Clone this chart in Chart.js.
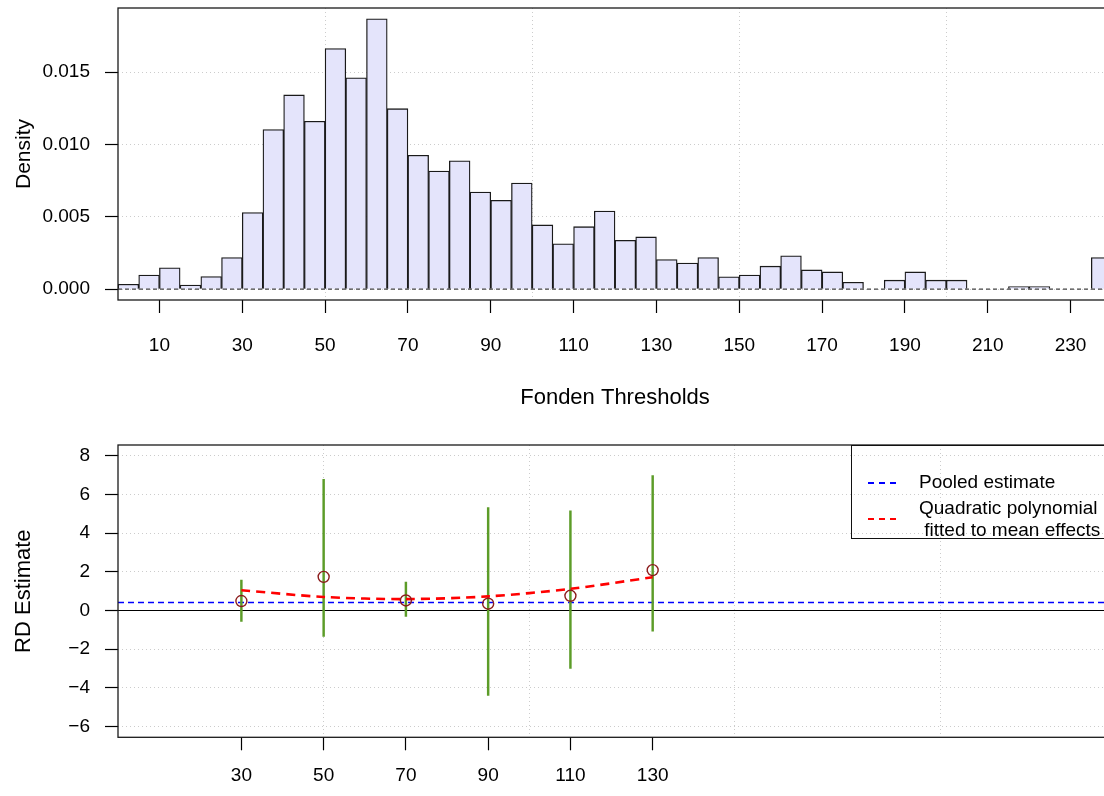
<!DOCTYPE html>
<html>
<head>
<meta charset="utf-8">
<title>Fonden Thresholds</title>
<script src="https://cdn.jsdelivr.net/npm/chart.js@4.4.1/dist/chart.umd.min.js"></script>
<style>
  html, body { margin: 0; padding: 0; background: #fff; overflow: hidden; width: 1104px; height: 796px; }
  #histCanvas { position: absolute; left: 0; top: 0; }
  #rdCanvas { position: absolute; left: 0; top: 420px; }
  #legend {
    position: absolute; left: 851px; top: 445px; width: 300px; height: 94px;
    box-sizing: border-box; border: 1.3px solid #111; border-right: none;
    font-family: "Liberation Sans", Arial, sans-serif; font-size: 19px; color: #000;
  }
  #legend .sample { position: absolute; left: 16px; width: 30px; height: 1.5px; }
  #legend .txt { position: absolute; left: 67px; white-space: pre; }
</style>
</head>
<body>
<canvas id="histCanvas" width="1112" height="420"></canvas>
<canvas id="rdCanvas" width="1112" height="376"></canvas>
<div id="legend">
  <div class="sample" style="top:36px;background:repeating-linear-gradient(to right,#0000ff 0 6px,transparent 6px 11px);"></div>
  <div class="txt" style="top:25px;line-height:22px;">Pooled estimate</div>
  <div class="sample" style="top:72px;background:repeating-linear-gradient(to right,#ff0000 0 6px,transparent 6px 11px);"></div>
  <div class="txt" style="top:51px;line-height:21.7px;">Quadratic polynomial
 fitted to mean effects</div>
</div>
<script>
// histogram of thresholds (bins of width 5)
const binWidth = 5;
const binStarts = [0, 5, 10, 15, 20, 25, 30, 35, 40, 45,
                   50, 55, 60, 65, 70, 75, 80, 85, 90, 95,
                   100, 105, 110, 115, 120, 125, 130, 135, 140, 145,
                   150, 155, 160, 165, 170, 175, 180, 185, 190, 195,
                   200, 205, 210, 215, 220, 225, 230, 235];
const density = [0.00034, 0.00097, 0.00147, 0.00028, 0.00087, 0.00218, 0.00529, 0.01103, 0.01343, 0.01161,
                 0.01664, 0.01462, 0.01869, 0.01248, 0.00926, 0.00816, 0.00887, 0.00671, 0.00614, 0.00733,
                 0.00444, 0.00313, 0.00432, 0.00540, 0.00338, 0.00361, 0.00205, 0.00181, 0.00218, 0.00085,
                 0.00097, 0.00159, 0.00230, 0.00133, 0.00119, 0.00048, 0, 0.00062, 0.00119, 0.00062,
                 0.00062, 0, 0, 0.00018, 0.00018, 0, 0, 0.00218];
const histXLabels = [10, 30, 50, 70, 90, 110, 130, 150, 170, 190, 210, 230];
const gridX = [50, 100, 150, 200];
const densityTicks = [0, 0.005, 0.010, 0.015];

// RD estimates per threshold
const thresholds = [30, 50, 70, 90, 110, 130];
const rdEstimate = [0.49, 1.74, 0.52, 0.35, 0.76, 2.09];
const ciLow = [-0.57, -1.34, -0.31, -4.39, -3.00, -1.07];
const ciHigh = [1.57, 6.79, 1.47, 5.32, 5.15, 6.98];
const quadFit = [1.05, 0.70, 0.59, 0.73, 1.12, 1.72];
const pooledEstimate = 0.41;
const rdTicks = [-6, -4, -2, 0, 2, 4, 6, 8];

Chart.defaults.font.family = '"Liberation Sans", Arial, sans-serif';
Chart.defaults.font.size = 19;
Chart.defaults.color = '#000';

const gridGray = '#cccccc';
const clear = 'rgba(0,0,0,0)';

// box around the plot region
const frame = {
    id: 'frame',
    afterDraw(chart) {
        const { ctx, chartArea: a } = chart;
        ctx.save();
        ctx.strokeStyle = '#1a1a1a';
        ctx.lineWidth = 1.3;
        ctx.strokeRect(a.left, a.top, a.right - a.left, a.bottom - a.top);
        ctx.restore();
    }
};

// horizontal reference lines through the y scale
function drawRefLines(chart, layer) {
    const lines = chart.options.plugins.refLines.lines || [];
    const { ctx, chartArea: a } = chart;
    const y = chart.scales.y;
    lines.forEach(l => {
        if (l.layer !== layer) return;
        const py = y.getPixelForValue(l.value);
        ctx.save();
        ctx.beginPath();
        ctx.rect(a.left, a.top, a.right - a.left, a.bottom - a.top);
        ctx.clip();
        ctx.strokeStyle = l.color;
        ctx.lineWidth = l.width;
        ctx.setLineDash(l.dash);
        ctx.beginPath();
        ctx.moveTo(a.left, py);
        ctx.lineTo(a.right, py);
        ctx.stroke();
        ctx.restore();
    });
}
const refLines = {
    id: 'refLines',
    beforeDatasetsDraw(chart) { drawRefLines(chart, 'before'); },
    afterDatasetsDraw(chart) { drawRefLines(chart, 'after'); }
};

// fixed axis boxes so both panels line up
function noPad(s) {
    s.paddingTop = 0; s.paddingBottom = 0; s.paddingLeft = 0; s.paddingRight = 0;
}

function xAxis(labels, tickPadding, height, title) {
    const all = [...new Set([...labels, ...gridX])].sort((a, b) => a - b);
    return {
        type: 'linear',
        min: 0,
        max: 240,
        offset: false,
        afterBuildTicks: s => { s.ticks = all.map(v => ({ value: v })); },
        afterFit: s => { s.height = height; noPad(s); },
        ticks: {
            autoSkip: false,
            maxRotation: 0,
            padding: tickPadding,
            callback: v => labels.includes(v) ? String(v) : ''
        },
        grid: {
            offset: false,
            lineWidth: 1,
            tickLength: 13,
            tickWidth: 1.2,
            color: c => (c.tick && gridX.includes(c.tick.value)) ? gridGray : clear,
            tickColor: c => (c.tick && labels.includes(c.tick.value)) ? '#000' : clear
        },
        border: { display: false, dash: [1, 3] },
        title: title
    };
}

function yAxis(min, max, ticksArr, fmt, titleText, titleSize) {
    return {
        type: 'linear',
        min: min,
        max: max,
        afterBuildTicks: s => { s.ticks = ticksArr.map(v => ({ value: v })); },
        afterFit: s => { s.width = 118; noPad(s); },
        ticks: { padding: 15, callback: fmt },
        grid: { lineWidth: 1, tickLength: 13, tickWidth: 1.2, color: gridGray, tickColor: '#000' },
        border: { display: false, dash: [1, 3] },
        title: {
            display: true,
            text: titleText,
            font: { size: titleSize },
            padding: { top: 24 - titleSize * 0.6, bottom: 0 }
        }
    };
}

new Chart(document.getElementById('histCanvas'), {
    type: 'bar',
    data: {
        datasets: [{
            label: 'Density',
            data: binStarts.map((s, i) => ({ x: s + binWidth / 2, y: density[i] })),
            backgroundColor: 'rgb(228,228,251)',
            borderColor: '#1a1a1a',
            borderWidth: 1.3,
            borderSkipped: 'start',
            barPercentage: 1,
            categoryPercentage: 1
        }]
    },
    options: {
        responsive: false,
        animation: false,
        devicePixelRatio: 1,
        layout: { padding: { top: 8, left: 0, right: 0, bottom: 0 } },
        plugins: {
            legend: { display: false },
            tooltip: { enabled: false },
            refLines: { lines: [{ value: 0, color: '#444', width: 1.4, dash: [4, 3], layer: 'after' }] }
        },
        scales: {
            x: xAxis(histXLabels, 21.5, 120, {
                display: true,
                text: 'Fonden Thresholds',
                font: { size: 22 },
                padding: { top: 0, bottom: 9 }
            }),
            y: yAxis(-0.00075, 0.01944, densityTicks, v => v.toFixed(3), 'Density', 21)
        }
    },
    plugins: [refLines, frame]
});

new Chart(document.getElementById('rdCanvas'), {
    type: 'scatter',
    data: {
        datasets: [{
            type: 'scatter',
            label: 'RD estimate',
            data: thresholds.map((t, i) => ({ x: t, y: rdEstimate[i] })),
            pointRadius: 5.5,
            pointBorderWidth: 1.4,
            pointBorderColor: 'rgb(140,28,28)',
            pointBackgroundColor: clear,
            order: 0
        }, {
            type: 'line',
            label: 'Quadratic polynomial fitted to mean effects',
            data: thresholds.map((t, i) => ({ x: t, y: quadFit[i] })),
            borderColor: '#ff0000',
            borderWidth: 2.6,
            borderDash: [9, 6],
            pointRadius: 0,
            tension: 0.3,
            fill: false,
            order: 1
        }, {
            type: 'bar',
            label: 'Confidence interval',
            data: thresholds.map((t, i) => ({ x: t, y: [ciLow[i], ciHigh[i]] })),
            backgroundColor: 'rgb(92,156,40)',
            borderWidth: 0,
            barThickness: 1.8,
            order: 2
        }]
    },
    options: {
        responsive: false,
        animation: false,
        devicePixelRatio: 1,
        layout: { padding: { top: 25, left: 0, right: 0, bottom: 0 } },
        plugins: {
            legend: { display: false },
            tooltip: { enabled: false },
            refLines: {
                lines: [
                    { value: 0, color: '#000', width: 1.2, dash: [], layer: 'before' },
                    { value: pooledEstimate, color: '#0000ff', width: 1.6, dash: [6, 4], layer: 'before' }
                ]
            }
        },
        scales: {
            x: xAxis(thresholds, 14, 58.7, { display: false }),
            y: yAxis(-6.56, 8.56, rdTicks, v => v < 0 ? '\u2212' + Math.abs(v) : String(v), 'RD Estimate', 22)
        }
    },
    plugins: [refLines, frame]
});
</script>
</body>
</html>
